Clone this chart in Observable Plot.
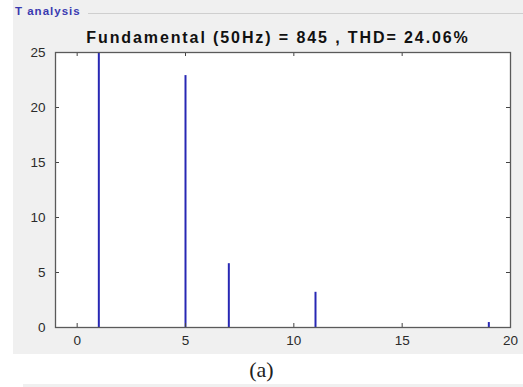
<!DOCTYPE html>
<html>
<head>
<meta charset="utf-8">
<script src="https://cdn.jsdelivr.net/npm/d3@7"></script>
<script src="https://cdn.jsdelivr.net/npm/@observablehq/plot@0.6"></script>
<style>
  html, body { margin: 0; padding: 0; background: #ffffff; }
  #wrap { position: relative; width: 523px; height: 387px; overflow: hidden; background: #fff; font-family: "Liberation Sans", Arial, sans-serif; }
  #panel { position: absolute; left: 13px; top: 0; width: 510px; height: 354px; background: #f0f0f0; }
  #chart { position: absolute; left: 13px; top: 0; }
  #group { position: absolute; left: 15px; top: 5px; font-size: 11.5px; font-weight: bold; letter-spacing: 1px; color: #3a3ab0; }
  #groupline { position: absolute; left: 88px; top: 13px; width: 435px; height: 1px; background: #cfcfcf; }
  #title { position: absolute; left: 13px; width: 530px; top: 29px; text-align: center; font-weight: bold; font-size: 16px; color: #111; letter-spacing: 1.9px; }
  #caption { position: absolute; left: 0; width: 523px; top: 357px; text-align: center; font-family: "Liberation Serif", "DejaVu Serif", serif; font-size: 22px; color: #222; }
  #strip { position: absolute; left: 23px; top: 384px; width: 500px; height: 3px; background: #f0f0f0; }
</style>
</head>
<body>
<div id="wrap">
  <div id="panel"></div>
  <div id="chart"></div>
  <div id="group">T analysis</div>
  <div id="groupline"></div>
  <div id="title">Fundamental (50Hz) = 845 , THD= 24.06%</div>
  <div id="caption">(a)</div>
  <div id="strip"></div>
</div>
<script>
const harmonicOrder = [1, 5, 7, 11, 19];
const magnitude = [100, 22.9, 5.8, 3.2, 0.45];
const xTicks = [0, 5, 10, 15, 20];
const yTicks = [0, 5, 10, 15, 20, 25];

const data = harmonicOrder.map((h, i) => ({h, v: magnitude[i]}));

const W = 510, H = 354, mL = 42, mR = 13, mT = 52, mB = 27;
const innerH = H - mT - mB, innerW = W - mL - mR;
const tickColor = "#444";
const labelColor = "#2b2b2b";

const chart = Plot.plot({
  width: W,
  height: H,
  marginLeft: mL,
  marginRight: mR,
  marginTop: mT,
  marginBottom: mB,
  style: {background: "transparent", fontFamily: "'Liberation Sans', Arial, sans-serif", fontSize: "13.5px", color: labelColor},
  x: {domain: [-1, 20]},
  y: {domain: [0, 25]},
  marks: [
    Plot.frame({fill: "white", stroke: "none"}),
    Plot.ruleX(data, {x: "h", y1: 0, y2: "v", stroke: "#2828b4", strokeWidth: 2, clip: true}),
    Plot.tickX(xTicks, {x: d => d, insetTop: innerH - 4, stroke: tickColor}),
    Plot.tickX(xTicks, {x: d => d, insetBottom: innerH - 4, stroke: tickColor}),
    Plot.tickY(yTicks, {y: d => d, insetRight: innerW - 4, stroke: tickColor}),
    Plot.tickY(yTicks, {y: d => d, insetLeft: innerW - 4, stroke: tickColor}),
    Plot.frame({stroke: "#5a5a5a", strokeWidth: 1.3}),
    Plot.axisX(xTicks, {anchor: "bottom", tickSize: 0, tickPadding: 8, fontSize: 13.5, fill: labelColor, label: null}),
    Plot.axisY(yTicks, {anchor: "left", tickSize: 0, tickPadding: 10, fontSize: 13.5, fill: labelColor, label: null})
  ]
});
document.getElementById("chart").appendChild(chart);
</script>
</body>
</html>
